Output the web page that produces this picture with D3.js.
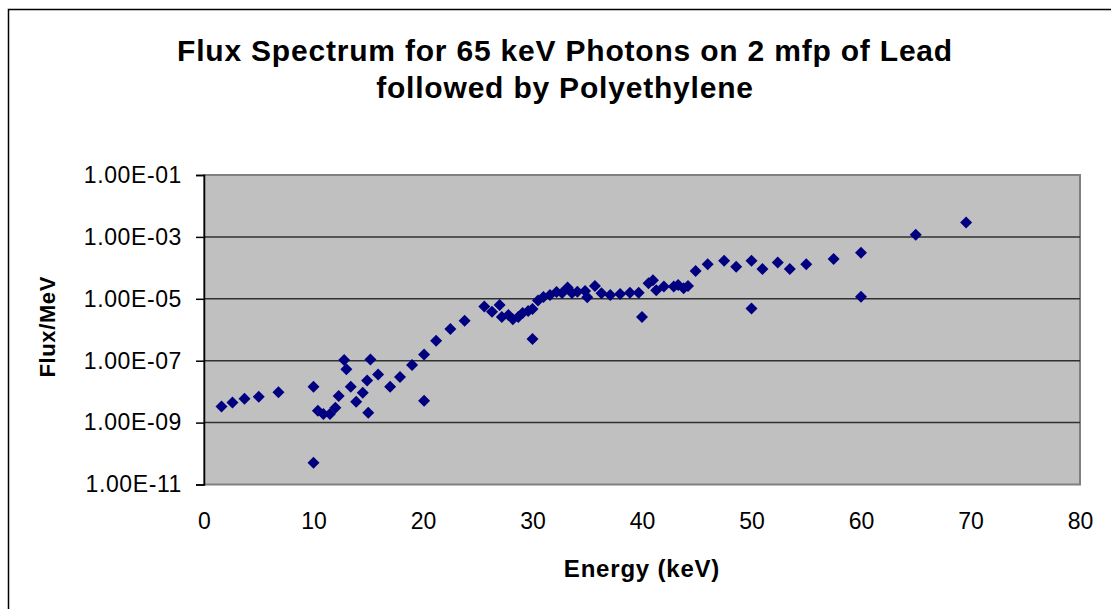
<!DOCTYPE html>
<html>
<head>
<meta charset="utf-8">
<script src="https://cdn.jsdelivr.net/npm/d3@7"></script>
<style>
  html, body { margin: 0; padding: 0; background: #fff; }
  svg { display: block; font-family: Arial, "Liberation Sans", sans-serif; }
</style>
</head>
<body>
<svg id="chart" width="1111" height="609"></svg>
<script>
// energies (keV) and flux values
const energy = [1.6, 2.6, 3.7, 5.0, 6.8, 10.0, 10.0, 10.4, 10.9, 11.5, 12.0, 12.3, 12.8, 13.0,
  13.4, 13.9, 14.5, 14.9, 15.0, 15.2, 15.9, 17.0, 17.9, 19.0, 20.1, 20.1, 21.2, 22.5, 23.8,
  25.6, 26.3, 27.0, 27.2, 27.8, 28.2, 28.7, 29.1, 29.6, 30.0, 30.0, 30.5, 31.0, 31.6, 32.2,
  32.7, 33.2, 33.6, 34.1, 34.8, 35.0, 35.7, 36.3, 37.1, 38.0, 38.9, 39.7, 40.0, 40.6, 41.0,
  41.3, 42.0, 42.9, 43.3, 43.8, 44.2, 44.9, 46.0, 47.5, 48.6, 50.0, 50.0, 51.0, 52.4, 53.5,
  55.0, 57.5, 60.0, 60.0, 65.0, 69.6];
const flux = [3.3e-9, 4.5e-9, 5.9e-9, 6.9e-9, 9.5e-9, 1.45e-8, 5.0e-11, 2.4e-9, 1.9e-9, 1.9e-9,
  3.0e-9, 7.2e-9, 1.05e-7, 5.3e-8, 1.45e-8, 4.7e-9, 9.2e-9, 2.3e-8, 2.1e-9, 1.1e-7, 3.6e-8,
  1.45e-8, 3.0e-8, 7.3e-8, 1.6e-7, 5.1e-9, 4.4e-7, 1.06e-6, 1.96e-6, 5.6e-6, 3.8e-6, 6.3e-6,
  2.6e-6, 3.0e-6, 2.2e-6, 2.6e-6, 3.5e-6, 4.0e-6, 4.7e-6, 5.0e-7, 8.8e-6, 1.14e-5, 1.33e-5,
  1.66e-5, 1.54e-5, 2.3e-5, 1.54e-5, 1.7e-5, 1.78e-5, 1.12e-5, 2.6e-5, 1.5e-5, 1.33e-5,
  1.43e-5, 1.57e-5, 1.57e-5, 2.6e-6, 3.2e-5, 4.0e-5, 1.9e-5, 2.5e-5, 2.5e-5, 2.8e-5, 2.2e-5,
  2.6e-5, 7.9e-5, 1.3e-4, 1.7e-4, 1.09e-4, 1.7e-4, 4.9e-6, 9.2e-5, 1.5e-4, 9.2e-5, 1.3e-4,
  1.93e-4, 3.1e-4, 1.17e-5, 1.18e-3, 2.9e-3];

const xTicks = [0, 10, 20, 30, 40, 50, 60, 70, 80];
const yTicks = [1e-11, 1e-9, 1e-7, 1e-5, 1e-3, 1e-1];
const titleLines = ["Flux Spectrum for 65 keV Photons on 2 mfp of Lead", "followed by Polyethylene"];

const svg = d3.select("#chart");
const plot = { left: 204, right: 1080, top: 175, bottom: 484.5 };

const x = d3.scaleLinear().domain([0, 80]).range([plot.left, plot.right]);
const y = d3.scaleLog().domain([1e-11, 1e-1]).range([plot.bottom, plot.top]);

// outer chart frame
svg.append("rect")
  .attr("x", 8.5).attr("y", 9.5)
  .attr("width", 1200).attr("height", 700)
  .attr("fill", "#fff").attr("stroke", "#000").attr("stroke-width", 1.5);

// plot area
svg.append("rect")
  .attr("x", plot.left).attr("y", plot.top)
  .attr("width", plot.right - plot.left).attr("height", plot.bottom - plot.top)
  .attr("fill", "#c0c0c0").attr("stroke", "#808080").attr("stroke-width", 2);

// gridlines
svg.append("g")
  .selectAll("line")
  .data(yTicks.slice(1, -1))
  .join("line")
  .attr("x1", plot.left).attr("x2", plot.right)
  .attr("y1", d => y(d)).attr("y2", d => y(d))
  .attr("stroke", "#303030").attr("stroke-width", 1.5);

// y axis
const yAxis = svg.append("g")
  .attr("transform", `translate(${plot.left},0)`)
  .call(d3.axisLeft(y).tickValues(yTicks).tickSize(8).tickPadding(14)
    .tickFormat(d => d3.format(".2e")(d).replace("e", "E").replace(/E-(\d)$/, "E-0$1")));
yAxis.select(".domain").attr("stroke", "#000").attr("stroke-width", 1.5);
yAxis.selectAll(".tick line").attr("stroke", "#000").attr("stroke-width", 1.5);
yAxis.selectAll("text").attr("font-size", 23).attr("fill", "#000")
  .attr("letter-spacing", 0.6)
  .attr("font-family", "Arial, 'Liberation Sans', sans-serif");

// x axis (labels only)
const xAxis = svg.append("g")
  .attr("transform", `translate(0,${plot.bottom})`)
  .call(d3.axisBottom(x).tickValues(xTicks).tickSize(0).tickPadding(28));
xAxis.select(".domain").remove();
xAxis.selectAll("text").attr("font-size", 23).attr("fill", "#000")
  .attr("font-family", "Arial, 'Liberation Sans', sans-serif");

// markers
const diamond = "M0,-6L6,0L0,6L-6,0Z";
svg.append("g")
  .selectAll("path")
  .data(d3.range(energy.length))
  .join("path")
  .attr("d", diamond)
  .attr("transform", i => `translate(${x(energy[i])},${y(flux[i])})`)
  .attr("fill", "#000080");

// title
svg.append("text")
  .attr("x", 565).attr("y", 61)
  .attr("text-anchor", "middle")
  .attr("font-size", 30).attr("font-weight", "bold")
  .attr("letter-spacing", 0.8)
  .selectAll("tspan")
  .data(titleLines)
  .join("tspan")
  .attr("x", 565)
  .attr("dy", (d, i) => i ? 37 : 0)
  .text(d => d);

// axis titles
svg.append("text")
  .attr("x", x(40)).attr("y", 577)
  .attr("text-anchor", "middle")
  .attr("font-size", 24).attr("font-weight", "bold")
  .attr("letter-spacing", 0.8)
  .text("Energy (keV)");

svg.append("text")
  .attr("transform", `translate(55,${(plot.top + plot.bottom) / 2 - 3}) rotate(-90)`)
  .attr("text-anchor", "middle")
  .attr("font-size", 22).attr("font-weight", "bold")
  .attr("letter-spacing", 0.6)
  .text("Flux/MeV");
</script>
</body>
</html>
